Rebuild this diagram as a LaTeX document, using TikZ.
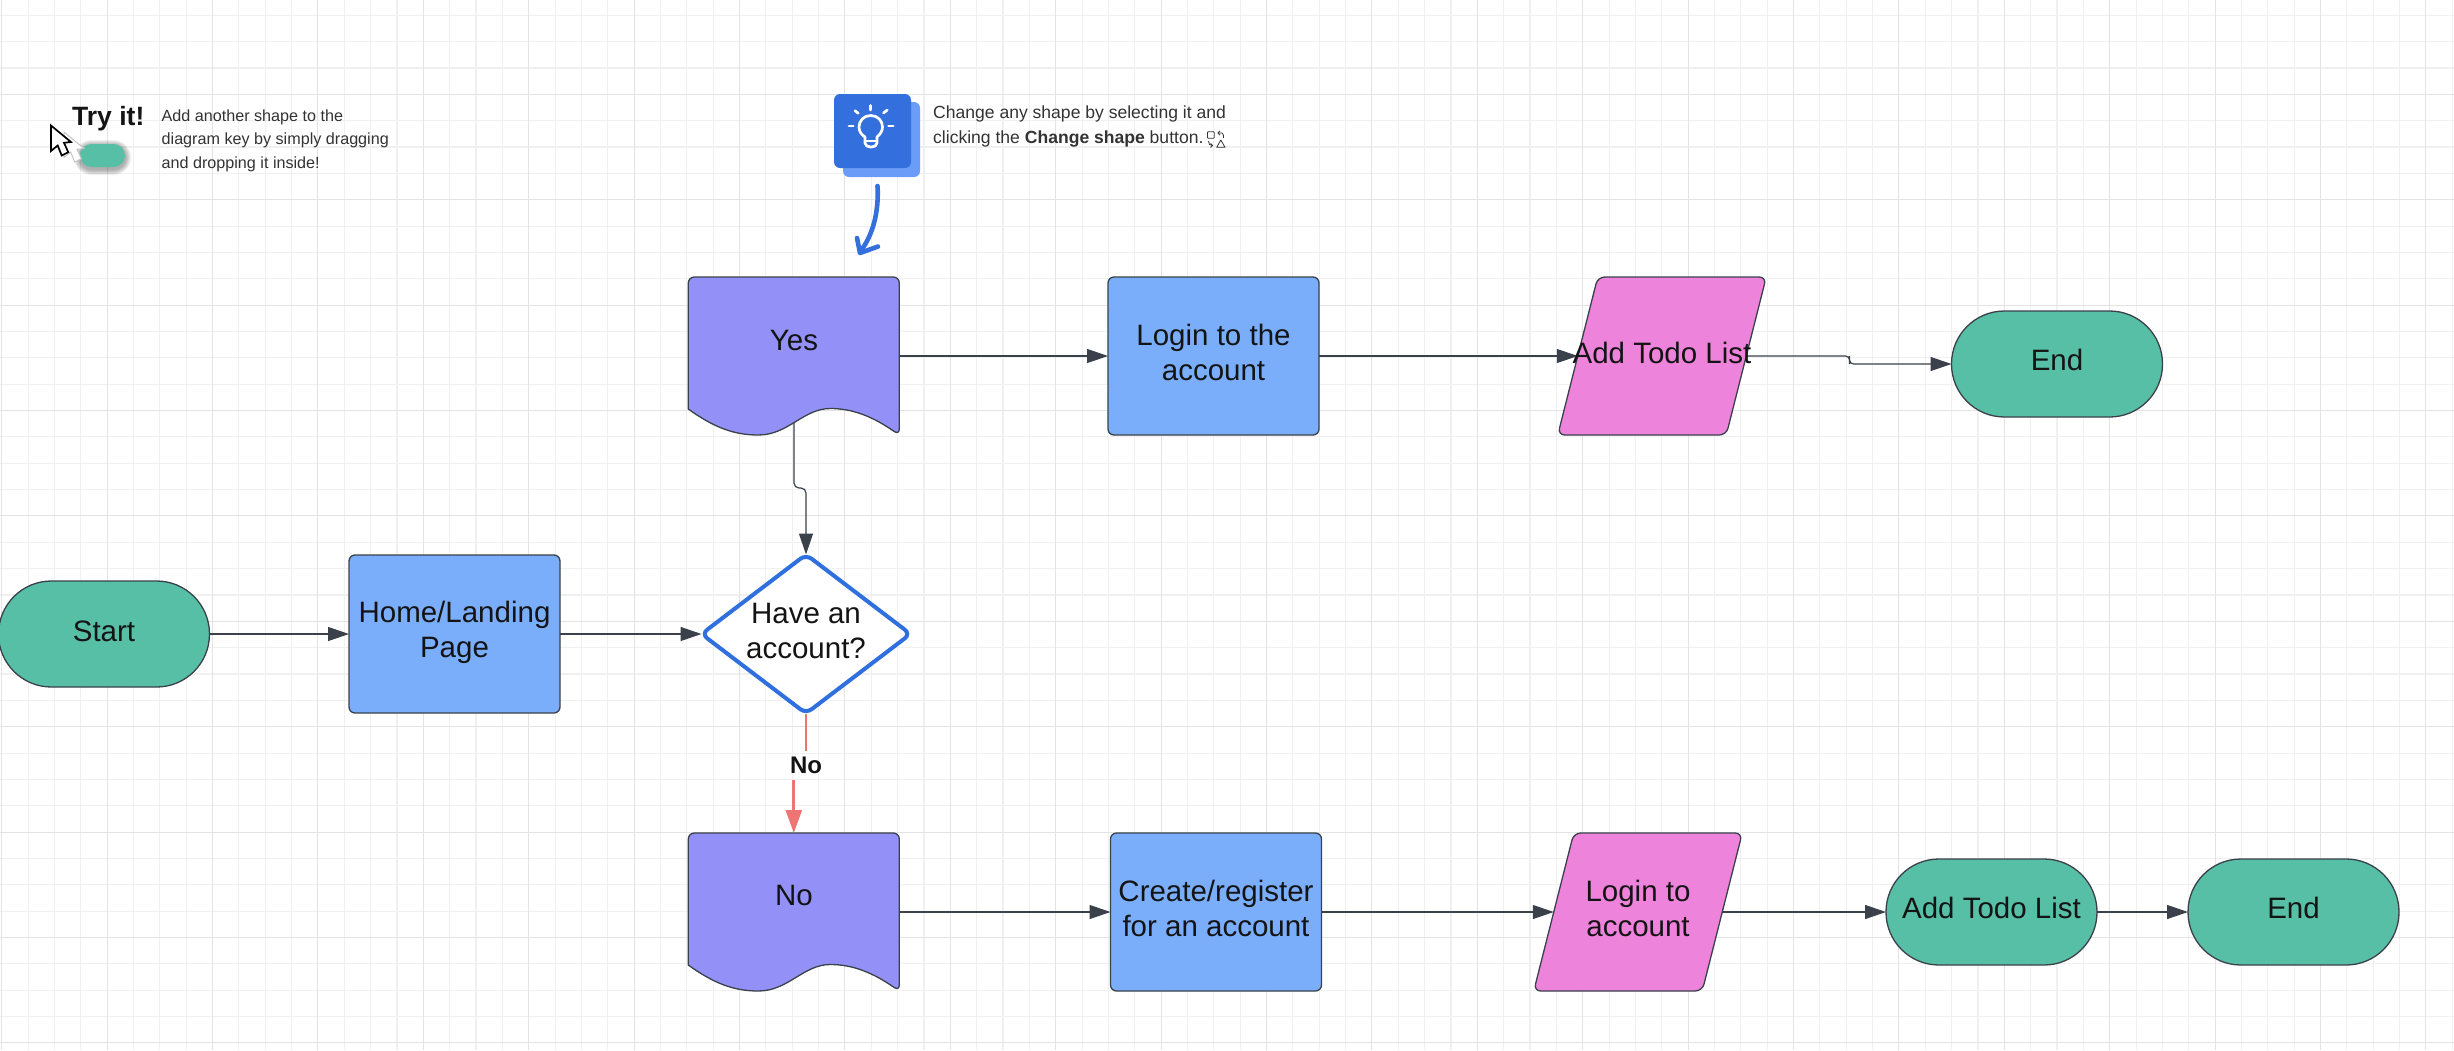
\documentclass[tikz,border=0pt]{standalone}
\usepackage{fontspec}
\setmainfont{Liberation Sans}
\usetikzlibrary{arrows.meta,calc,shapes.geometric}
\definecolor{gridminor}{HTML}{F0F0F0}
\definecolor{gridmajor}{HTML}{E3E3E3}
\definecolor{edgec}{HTML}{3A414A}
\definecolor{docc}{HTML}{9391F7}
\definecolor{boxc}{HTML}{7AAEFB}
\definecolor{parac}{HTML}{EE83DB}
\definecolor{termc}{HTML}{56BFA6}
\definecolor{bluec}{HTML}{2F6FDE}
\definecolor{tipdark}{HTML}{3370DD}
\definecolor{tiplight}{HTML}{6A9CF8}
\definecolor{redc}{HTML}{EF7474}
\definecolor{inkc}{HTML}{333333}
\tikzset{
  x=1pt,y=-1pt,
  outl/.style={draw=edgec,line width=1.3pt},
  frame/.style={rectangle,inner sep=0pt,outer sep=0pt,minimum width=211pt,minimum height=158pt},
  paraframe/.style={frame,minimum width=168.5pt},
  procbox/.style={frame,outl,fill=boxc,rounded corners=6pt},
  term/.style={rectangle,inner sep=0pt,outer sep=0pt,minimum width=211pt,minimum height=106pt,outl,fill=termc,rounded corners=52.9pt},
  lbl/.style={inner sep=0pt,align=center,text=black!92,font=\fontsize{29.5}{35}\selectfont},
  note/.style={inner sep=0pt,align=left,text=inkc},
  conn/.style={edgec,line width=1.2pt,-{Triangle[length=21pt,width=14pt]}},
  rayl/.style={white,line width=2.7pt,line cap=round},
  iconl/.style={draw=inkc,line width=.8pt},
}
\newcommand\docshape[1]{%
  \begin{scope}[shift={(#1.north west)}]
    \draw[outl,fill=docc] (0,132) [rounded corners=6pt] -- (0,0) -- (211,0) -- (211,158) [sharp corners]
      .. controls (185,140) and (165,131.5) .. (142,131.5)
      .. controls (115,131.5) and (100,158) .. (70,158)
      .. controls (45,158) and (25,150) .. (0,132) -- cycle;
  \end{scope}}
\newcommand\parashape[1]{%
  \draw[outl,fill=parac,rounded corners=7pt]
    ($(#1.south west)+(-20,0)$) -- ($(#1.north west)+(20,0)$)
    -- ($(#1.north east)+(20,0)$) -- ($(#1.south east)+(-20,0)$) -- cycle;}
\newcommand\cursorshape[3]{%
  \begin{scope}[shift={(#1,#2)}]
    \draw[#3,fill=white,line join=miter] (0,0) -- (0,25.5) -- (6.7,20) -- (10.7,30) -- (17.3,26.7) -- (13,17.3) -- (20,16.5) -- cycle;
  \end{scope}}
\begin{document}
\begin{tikzpicture}
\useasboundingbox (0,0) rectangle (2454,1050);
\fill[white] (0,0) rectangle (2454,1050);
% grid
\foreach \k in {0,...,93}{
  \pgfmathsetmacro\gx{1.7+26.35*\k}
  \draw[gridminor,line width=1.1pt] (\gx,0) -- (\gx,1050);}
\foreach \k in {0,...,40}{
  \pgfmathsetmacro\gy{15.25+26.35*\k}
  \draw[gridminor,line width=1.1pt] (0,\gy) -- (2454,\gy);}
\foreach \k in {0,...,23}{
  \pgfmathsetmacro\gx{1.7+105.4*\k}
  \draw[gridmajor,line width=1.1pt] (\gx,0) -- (\gx,1050);}
\foreach \k in {0,...,9}{
  \pgfmathsetmacro\gy{94.3+105.4*\k}
  \draw[gridmajor,line width=1.1pt] (0,\gy) -- (2454,\gy);}

% frames of the shapes
\node[term] (start) at (104,634) {};
\node[procbox] (home) at (454.5,634) {};
\node[diamond,inner sep=0pt,outer sep=0pt,minimum width=209pt,minimum height=159pt,aspect=1.32,draw=bluec,line width=4pt,fill=white,rounded corners=7pt] (have) at (806,634) {};
\node[frame] (yes) at (793.8,356) {};
\node[procbox] (login) at (1213.5,356) {};
\node[paraframe] (add) at (1662,356) {};
\node[term] (end) at (2057,364) {};
\node[frame] (no) at (793.8,912) {};
\node[procbox] (create) at (1216,912) {};
\node[paraframe] (loginb) at (1638,912) {};
\node[term] (addb) at (1991.5,912) {};
\node[term] (endb) at (2293.5,912) {};

\coordinate (yesb) at (794,423);
\coordinate (yesk) at (794,488);
\coordinate (addk) at (1849.5,360);

% connectors that start under a shape
\draw[conn,rounded corners=5pt] (yesb) -- (yesk) -| (have.north);
\docshape{yes}
\docshape{no}
\parashape{add}
\parashape{loginb}
\draw[conn] (start) -- (home);
\draw[conn] (home) -- (have);
\draw[conn] (yes.east) -- (login.west);
\draw[conn] (login.east) -- (add.west);
\draw[conn,rounded corners=4pt] (add.east) -| (addk) |- (end.west);
\draw[conn] (no.east) -- (create.west);
\draw[conn] (create.east) -- (loginb.west);
\draw[conn] (loginb.east) -- (addb.west);
\draw[conn] (addb.east) -- (endb.west);

% No branch
\node[inner sep=0pt,outer sep=0pt,minimum height=29pt,text=black!92,font=\fontsize{24}{28}\selectfont\bfseries] (nolbl) at (806,765.5) {No};
\draw[redc,line width=2.8pt] (have.south) -- (nolbl.north);
\draw[redc,line width=2.8pt,-{Triangle[length=23pt,width=16pt]}] (no.north |- nolbl.south) -- (no.north);

% texts of the shapes
\node[lbl] (t1) at (104,631.5) {Start};
\node[lbl] (t2) at (454.5,632.5) {Home/Landing\\Page};
\node[lbl] (t3) at (806,631) {Have an\\account?};
\node[lbl] (t4) at (794,340) {Yes};
\node[lbl] (t5) at (1213.5,352) {Login to the\\account};
\node[lbl] (t6) at (1662,352.5) {Add Todo List};
\node[lbl] (t7) at (2057,360) {End};
\node[lbl] (t8) at (794,895.5) {No};
\node[lbl] (t9) at (1216,908) {Create/register\\for an account};
\node[lbl] (t10) at (1638,908) {Login to\\account};
\node[lbl] (t11) at (1991.5,908) {Add Todo List};
\node[lbl] (t12) at (2293.5,908) {End};

% Try it! hint
\foreach \g in {6,5,4,3,2,1}{
  \pgfmathsetmacro\cr{11.5+\g}
  \fill[black,opacity=.06,rounded corners=\cr pt] (80-\g,146-\g) rectangle (125+\g,169+\g);}
\fill[termc,rounded corners=11.5pt] (80,144) rectangle (125,167);
\cursorshape{64}{132}{gray!45,line width=1pt}
\cursorshape{51}{125.5}{black,line width=1.7pt}
\node[inner sep=0pt,anchor=west,text=black!92,font=\fontsize{26.5}{30}\selectfont\bfseries] (tryit) at (72,119) {Try it!};
\node[note,anchor=west,font=\fontsize{16.15}{23.5}\selectfont] (trynote) at (161.5,140.5) {Add another shape to the\\diagram key by simply dragging\\and dropping it inside!};

% tip card
\fill[tiplight,rounded corners=6pt] (843,102) rectangle (920,177);
\fill[tipdark,rounded corners=6pt] (834,94) rectangle (911,168);
\draw[rayl] (870.7,105.5) -- (870.7,110);
\draw[rayl] (855,110.7) -- (858.3,113.3);
\draw[rayl] (887.3,110) -- (883.5,113);
\draw[rayl] (849,126) -- (853.3,126);
\draw[rayl] (888.5,126) -- (893.3,126);
\draw[white,line width=2.7pt,line join=round] (865,143) -- (865,137) .. controls (861,134.5) and (859,131) .. (859,127)
  .. controls (859,120.5) and (864,115.5) .. (870.7,115.5)
  .. controls (877.4,115.5) and (882.5,120.5) .. (882.5,127)
  .. controls (882.5,131) and (880,134.5) .. (877,137) -- (877,143)
  .. controls (877,148.5) and (865,148.5) .. (865,143) -- cycle;
\draw[white,line width=2.2pt] (865,141) -- (877,141);
\draw[tipdark,line width=4.6pt,line cap=round] (877.5,186) .. controls (879,212) and (873,235) .. (860,252);
\draw[tipdark,line width=4.6pt,line cap=round,line join=round] (857,238) -- (860,253) -- (878,246.5);
\node[note,anchor=west,font=\fontsize{17.55}{25}\selectfont] (tipnote) at (933,126.5) {Change any shape by selecting it and\\clicking the \textbf{Change shape} button.};
% change-shape icon
\draw[iconl,rounded corners=.8pt] (1207.5,131.7) rectangle (1214.3,138.3);
\draw[iconl,line join=round] (1220.8,140) -- (1216.7,147.3) -- (1225,147.3) -- cycle;
\draw[iconl] (1218,133) -- (1222,133) .. controls (1223.5,133) and (1223.5,136) .. (1223.5,138);
\draw[iconl] (1220,131) -- (1218,133) -- (1220,135);
\draw[iconl] (1208.5,141) .. controls (1208.5,144) and (1209.5,145.5) .. (1212.5,145.5);
\draw[iconl] (1210.5,143.5) -- (1212.5,145.5) -- (1210.5,147.5);
\end{tikzpicture}
\end{document}
